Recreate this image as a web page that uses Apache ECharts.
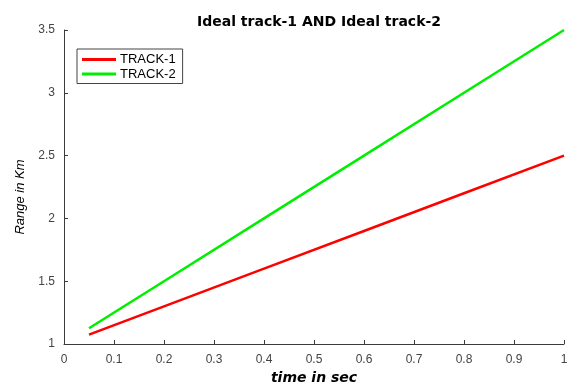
<!DOCTYPE html>
<html><head><meta charset="utf-8">
<script src="https://cdn.jsdelivr.net/npm/echarts@6/dist/echarts.min.js"></script>
<style>html,body{margin:0;padding:0;background:#fff}#c{width:574px;height:385px}</style>
</head><body><div id="c"></div>
<script>
var time = [0.05, 0.2, 0.4, 0.6, 0.8, 1.0];
var track1 = [1.075, 1.3, 1.6, 1.9, 2.2, 2.5];
var track2 = [1.125, 1.5, 2.0, 2.5, 3.0, 3.5];
var xTicks = [0, 0.1, 0.2, 0.3, 0.4, 0.5, 0.6, 0.7, 0.8, 0.9, 1];
var yTicks = [1, 1.5, 2, 2.5, 3, 3.5];
var font = 'Liberation Sans, Arial, sans-serif';
var boldFont = 'DejaVu Sans, sans-serif';
var axisCol = '#3a3a3a';
var chart = echarts.init(document.getElementById('c'));
chart.setOption({
  animation: false,
  title: {text: 'Ideal track-1 AND Ideal track-2', left: 314, textAlign: 'center', top: 10,
    textStyle: {fontFamily: boldFont, fontSize: 14, fontWeight: 'bold', color: '#000'}},
  grid: {left: 64, right: 10, top: 30, bottom: 41, outerBoundsMode: 'none', containLabel: false},
  legend: {orient: 'vertical', left: 77, top: 49, padding: [4, 7, 3, 5], itemGap: 1.5,
    itemWidth: 34, itemHeight: 3, icon: 'rect', borderColor: '#444', borderWidth: 1, backgroundColor: '#fff',
    textStyle: {fontFamily: font, fontSize: 13, color: '#000', padding: [0, 0, 0, -1]},
    data: ['TRACK-1', 'TRACK-2']},
  xAxis: {type: 'value', min: 0, max: 1, interval: 0.1,
    name: 'time in sec', nameLocation: 'middle', nameGap: 27,
    nameTextStyle: {fontFamily: boldFont, fontSize: 14, fontWeight: 'bold', fontStyle: 'italic', color: '#000'},
    axisLine: {show: true, lineStyle: {color: axisCol, width: 1}},
    axisTick: {show: true, inside: true, length: 4, lineStyle: {color: axisCol}},
    axisLabel: {fontFamily: font, fontSize: 12, color: '#444', margin: 10,
      formatter: function (v) { var r = Math.round(v * 10) / 10; return xTicks.indexOf(r) >= 0 ? String(r) : ''; }},
    splitLine: {show: false}},
  yAxis: {type: 'value', min: 1, max: 3.5, interval: 0.5,
    name: 'Range in Km', nameLocation: 'middle', nameGap: 37,
    nameTextStyle: {fontFamily: font, fontSize: 13, fontStyle: 'italic', color: '#000', padding: [0, 20, 0, 0]},
    axisLine: {show: true, lineStyle: {color: axisCol, width: 1}},
    axisTick: {show: true, inside: true, length: 4, lineStyle: {color: axisCol}},
    axisLabel: {fontFamily: font, fontSize: 12, color: '#444', margin: 9,
      formatter: function (v) { return yTicks.indexOf(v) >= 0 ? String(v) : ''; }},
    splitLine: {show: false}},
  series: [
    {name: 'TRACK-1', type: 'line', symbol: 'none', color: '#ff0000', lineStyle: {width: 2.5, color: '#ff0000'},
      data: time.map(function (t, i) { return [t, track1[i]]; })},
    {name: 'TRACK-2', type: 'line', symbol: 'none', color: '#00ee00', lineStyle: {width: 2.5, color: '#00ee00'},
      data: time.map(function (t, i) { return [t, track2[i]]; })}
  ]
});
</script></body></html>
